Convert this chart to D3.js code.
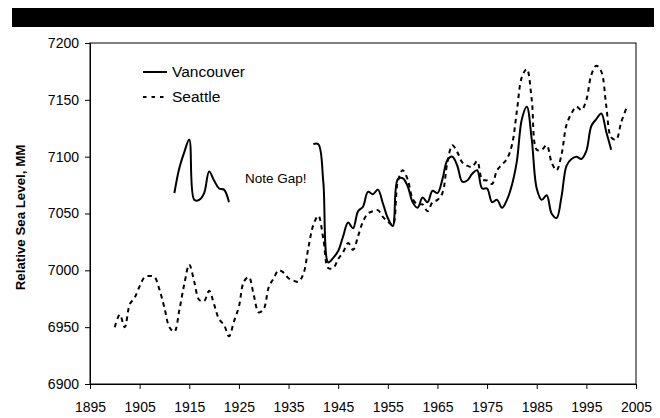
<!DOCTYPE html>
<html>
<head>
<meta charset="utf-8">
<script src="https://cdn.jsdelivr.net/npm/d3@7/dist/d3.min.js"></script>
<style>
  body { margin: 0; background: #fff; }
  text { font-family: "Liberation Sans", Arial, sans-serif; }
</style>
</head>
<body>
<script>
// chart size
var width = 660;
var height = 418;
var margin = {top: 43, right: 24, bottom: 34, left: 90};

// data
var seattleYears = d3.range(1900, 2004);
var seattleValues = [6950, 6961, 6950, 6970, 6976, 6986, 6994, 6995, 6994, 6983,
                     6967, 6950, 6946, 6965, 6988, 7005, 6990, 6974, 6973, 6982,
                     6970, 6957, 6952, 6942, 6955, 6968, 6990, 6994, 6978, 6963,
                     6966, 6985, 6993, 7000, 6998, 6993, 6991, 6990, 6997, 7020,
                     7040, 7048, 7028, 7002, 7002, 7010, 7016, 7024, 7018, 7030,
                     7043, 7050, 7052, 7053, 7047, 7043, 7040, 7078, 7088, 7080,
                     7063, 7058, 7058, 7052, 7060, 7062, 7068, 7095, 7110, 7104,
                     7095, 7092, 7091, 7096, 7080, 7079, 7076, 7088, 7093, 7098,
                     7110, 7140, 7170, 7177, 7150, 7106, 7106, 7110, 7095, 7088,
                     7102, 7128, 7138, 7144, 7141, 7150, 7172, 7180, 7175, 7145,
                     7117, 7115, 7130, 7142];

var vanYears1 = d3.range(1912, 1924);
var vanValues1 = [7068, 7090, 7104, 7115, 7062, 7062, 7068, 7087, 7079, 7072, 7071, 7060];

var vanYears2 = d3.range(1940, 2001);
var vanValues2 = [7111, 7111, 7078, 7007, 7011, 7017, 7030, 7042, 7037, 7052,
                  7056, 7069, 7067, 7071, 7059, 7046, 7039, 7080, 7081, 7074,
                  7060, 7055, 7064, 7060, 7070, 7068, 7080, 7097, 7100, 7092,
                  7078, 7079, 7085, 7088, 7072, 7072, 7060, 7062, 7055, 7062,
                  7075, 7096, 7133, 7144, 7115, 7072, 7062, 7066, 7050, 7046,
                  7065, 7092, 7098, 7100, 7098, 7105, 7127, 7133, 7138, 7122,
                  7106];

var xTicks = d3.range(1895, 2006, 10);
var yTicks = d3.range(6900, 7201, 50);

var svg = d3.select('body')
            .append('svg')
            .attr('width', width)
            .attr('height', height);

// black title bar
svg.append('rect')
   .attr('x', 12)
   .attr('y', 8)
   .attr('width', 642)
   .attr('height', 19)
   .attr('fill', '#000');

var x = d3.scaleLinear()
          .domain([1895, 2005])
          .range([margin.left, width - margin.right]);

var y = d3.scaleLinear()
          .domain([6900, 7200])
          .range([height - margin.bottom, margin.top]);

// plot frame
svg.append('rect')
   .attr('x', x(1895))
   .attr('y', y(7200))
   .attr('width', x(2005) - x(1895))
   .attr('height', y(6900) - y(7200))
   .attr('fill', 'none')
   .attr('stroke', '#000')
   .attr('stroke-width', 1);

var xAxis = svg.append('g')
               .attr('transform', 'translate(0,' + y(6900) + ')')
               .call(d3.axisBottom(x).tickValues(xTicks).tickFormat(d3.format('d')).tickSize(5).tickPadding(13));

var yAxis = svg.append('g')
               .attr('transform', 'translate(' + x(1895) + ',0)')
               .call(d3.axisLeft(y).tickValues(yTicks).tickFormat(d3.format('d')).tickSize(5).tickPadding(6));

[xAxis, yAxis].forEach(function(g){
  g.select('.domain').attr('stroke', '#000');
  g.selectAll('.tick line').attr('stroke', '#000');
  g.selectAll('.tick text')
   .attr('fill', '#000')
   .style('font-size', '14px')
   .style('font-family', '"Liberation Sans", Arial, sans-serif');
});

// y axis title
svg.append('text')
   .attr('transform', 'translate(25,' + ((y(7200) + y(6900)) / 2 + 4) + ') rotate(-90)')
   .attr('text-anchor', 'middle')
   .style('font-size', '13.3px')
   .style('font-weight', 'bold')
   .text('Relative Sea Level, MM');

var line = d3.line()
             .x(function(d){ return x(d[0]); })
             .y(function(d){ return y(d[1]); })
             .curve(d3.curveCatmullRom);

function pairs(years, values) {
  return years.map(function(yr, i){ return [yr, values[i]]; });
}

svg.append('path')
   .attr('d', line(pairs(seattleYears, seattleValues)))
   .attr('fill', 'none')
   .attr('stroke', '#000')
   .attr('stroke-width', 2)
   .attr('stroke-dasharray', '4.5,4');

[pairs(vanYears1, vanValues1), pairs(vanYears2, vanValues2)].forEach(function(seg){
  svg.append('path')
     .attr('d', line(seg))
     .attr('fill', 'none')
     .attr('stroke', '#000')
     .attr('stroke-width', 2);
});

// legend
var legend = svg.append('g');
legend.append('line')
      .attr('x1', 143).attr('x2', 167)
      .attr('y1', 72).attr('y2', 72)
      .attr('stroke', '#000').attr('stroke-width', 2);
legend.append('line')
      .attr('x1', 143).attr('x2', 167)
      .attr('y1', 97).attr('y2', 97)
      .attr('stroke', '#000').attr('stroke-width', 2)
      .attr('stroke-dasharray', '3.5,5');
legend.append('text')
      .attr('x', 172).attr('y', 77)
      .style('font-size', '15.5px')
      .text('Vancouver');
legend.append('text')
      .attr('x', 172).attr('y', 102)
      .style('font-size', '15.5px')
      .text('Seattle');

svg.append('text')
   .attr('x', 245)
   .attr('y', 183)
   .style('font-size', '13.5px')
   .text('Note Gap!');
</script>
</body>
</html>
